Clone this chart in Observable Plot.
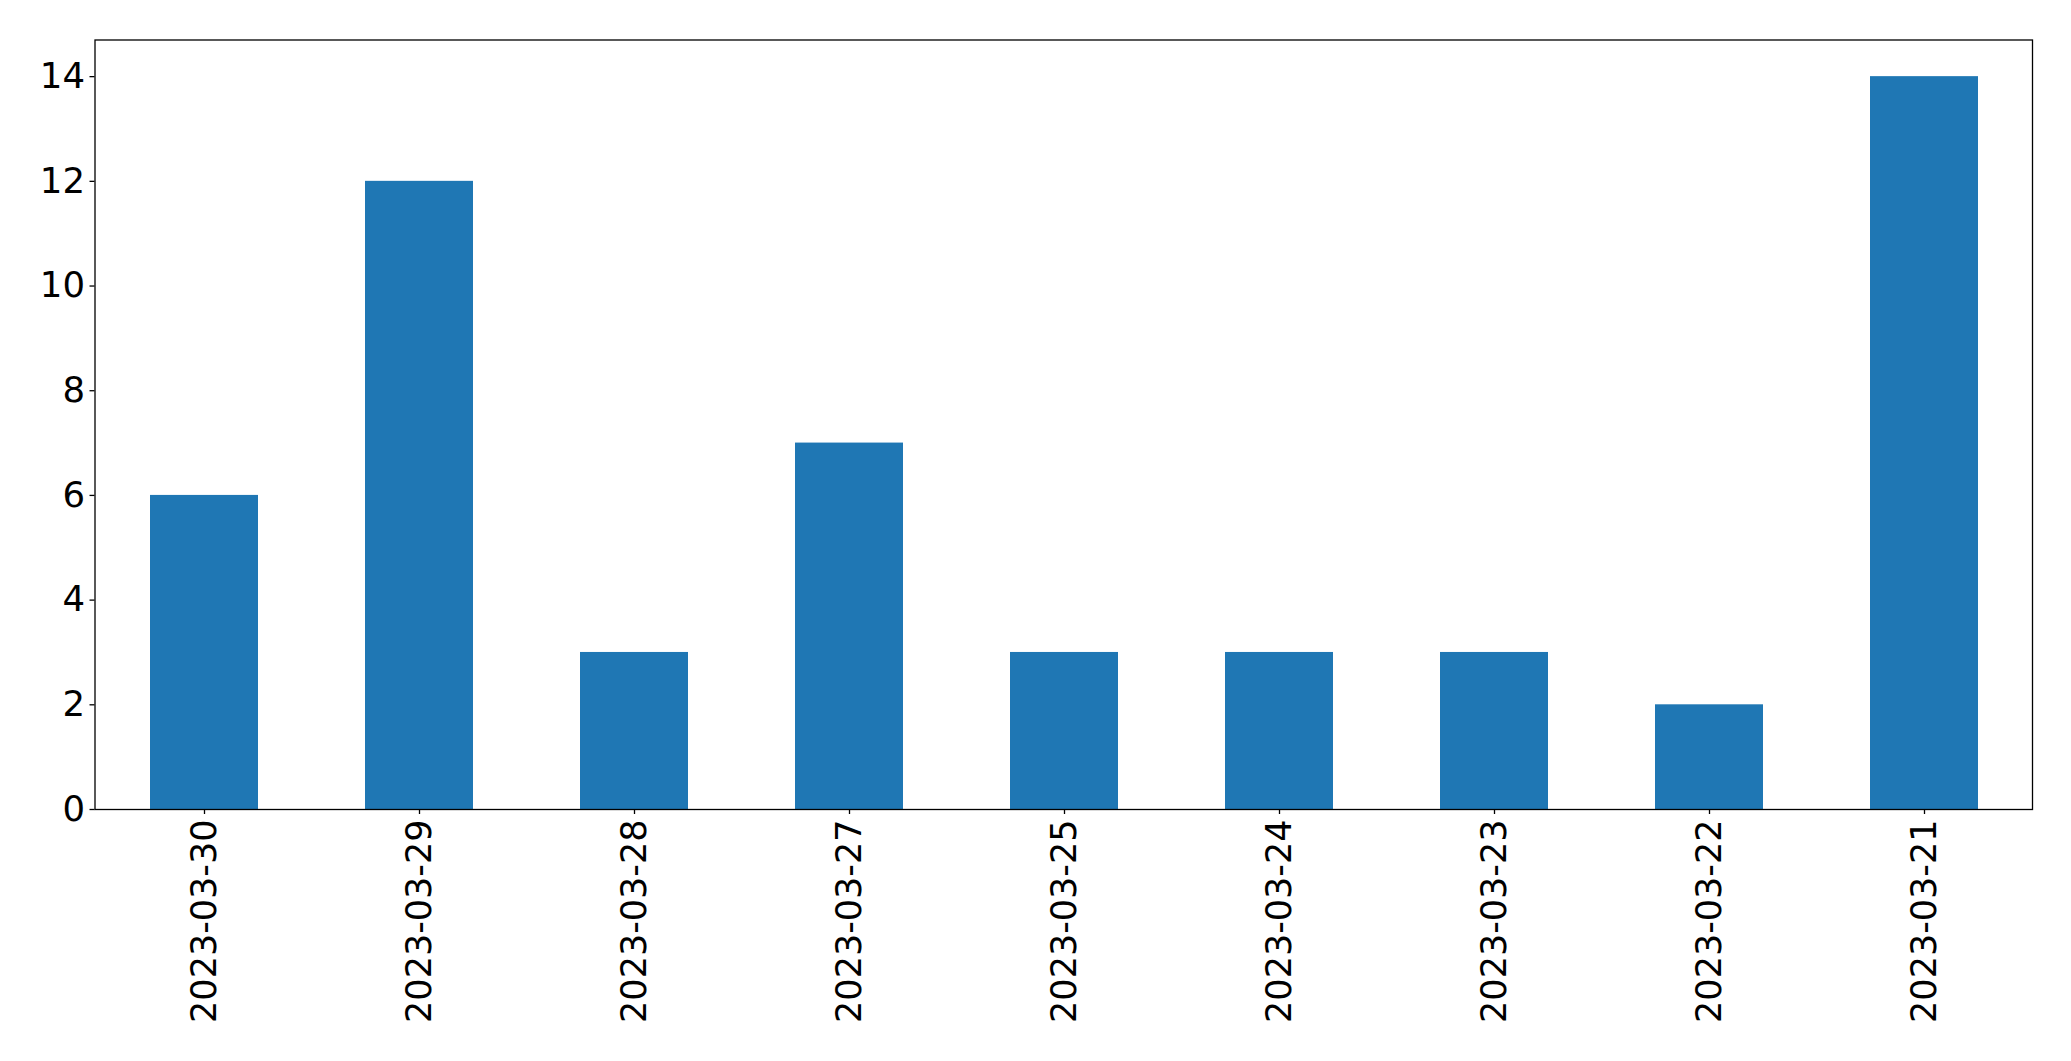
<!DOCTYPE html>
<html>
<head>
<meta charset="utf-8">
<script src="https://cdn.jsdelivr.net/npm/d3@7"></script>
<script src="https://cdn.jsdelivr.net/npm/@observablehq/plot@0.6"></script>
<style>
  html, body { margin: 0; padding: 0; background: #fff; }
  svg { display: block; }
</style>
</head>
<body>
<div id="chart"></div>
<script>
const dates = ["2023-03-30", "2023-03-29", "2023-03-28", "2023-03-27", "2023-03-25", "2023-03-24", "2023-03-23", "2023-03-22", "2023-03-21"];
const counts = [6, 12, 3, 7, 3, 3, 3, 2, 14];
const yTicks = [0, 2, 4, 6, 8, 10, 12, 14];

const data = dates.map((d, i) => ({date: d, count: counts[i]}));

const chart = Plot.plot({
  width: 2071,
  height: 1061,
  marginLeft: 94.5,
  marginRight: 39,
  marginTop: 39.5,
  marginBottom: 252,
  style: {fontFamily: "DejaVu Sans", background: "#fff", color: "#000"},
  x: {domain: dates, paddingInner: 0.5, paddingOuter: 0.25, label: null},
  y: {domain: [0, 14.7], label: null},
  marks: [
    Plot.barY(data, {x: "date", y: "count", fill: "#1f77b4"}),
    Plot.frame({stroke: "#000", strokeWidth: 1.3}),
    Plot.axisY({ticks: yTicks, tickSize: 5, tickPadding: 5, fontSize: 35.5, label: null, stroke: "#000", strokeWidth: 1.3}),
    Plot.axisX({tickRotate: -90, tickSize: 5, tickPadding: 5, fontSize: 35, label: null, stroke: "#000", strokeWidth: 1.3})
  ]
});
document.getElementById("chart").appendChild(chart);
</script>
</body>
</html>
